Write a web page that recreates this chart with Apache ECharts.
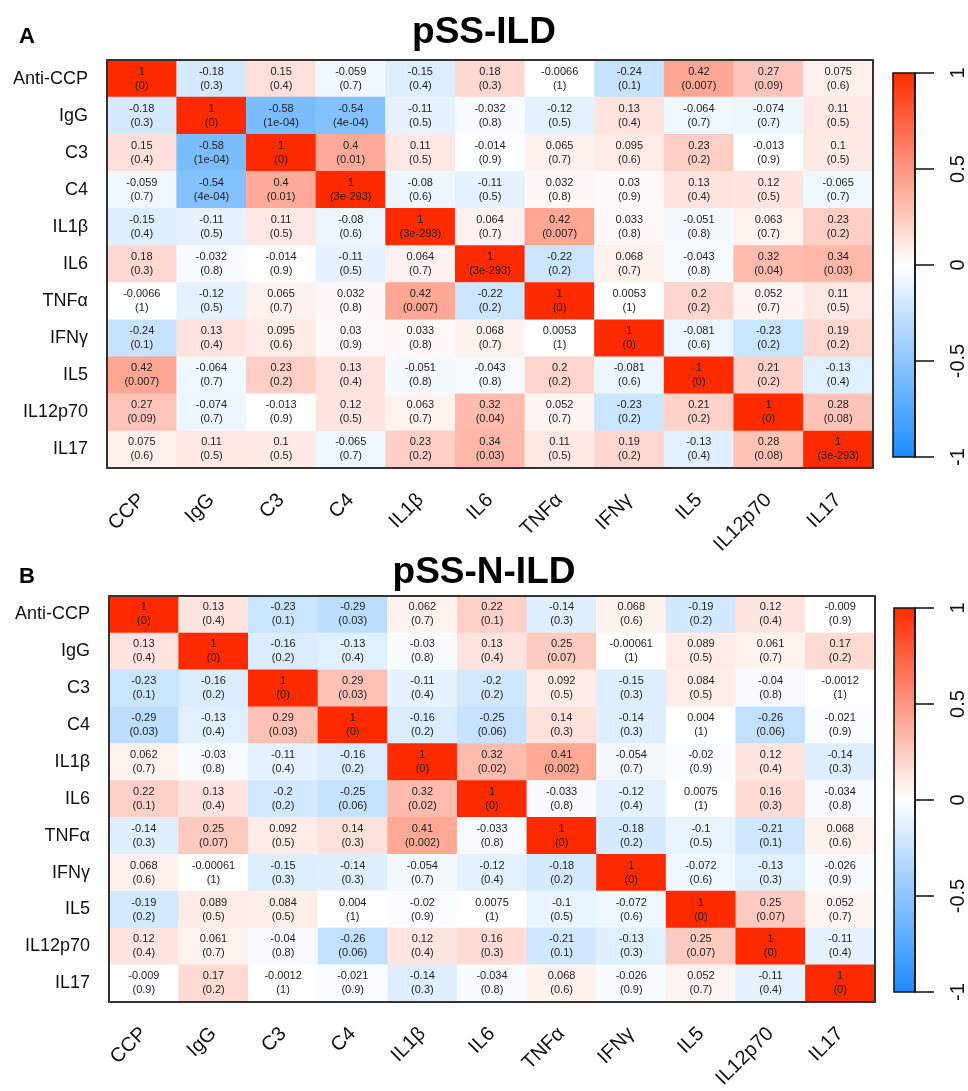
<!DOCTYPE html>
<html>
<head>
<meta charset="utf-8">
<script src="https://cdn.jsdelivr.net/npm/echarts@6/dist/echarts.min.js"></script>
<style>
html,body{margin:0;padding:0;background:#fff;}
#chart{width:968px;height:1091px;}
</style>
</head>
<body>
<div id="chart"></div>
<script>
// ---- Data ----
const rowLabels = ['Anti-CCP','IgG','C3','C4','IL1β','IL6','TNFα','IFNγ','IL5','IL12p70','IL17'];
const colLabels = ['CCP','IgG','C3','C4','IL1β','IL6','TNFα','IFNγ','IL5','IL12p70','IL17'];
const colorbarTicks = [-1, -0.5, 0, 0.5, 1];

// pSS-ILD correlation coefficients (rows x cols)
const rILD = [
  [1, -0.18, 0.15, -0.059, -0.15, 0.18, -0.0066, -0.24, 0.42, 0.27, 0.075],
  [-0.18, 1, -0.58, -0.54, -0.11, -0.032, -0.12, 0.13, -0.064, -0.074, 0.11],
  [0.15, -0.58, 1, 0.4, 0.11, -0.014, 0.065, 0.095, 0.23, -0.013, 0.1],
  [-0.059, -0.54, 0.4, 1, -0.08, -0.11, 0.032, 0.03, 0.13, 0.12, -0.065],
  [-0.15, -0.11, 0.11, -0.08, 1, 0.064, 0.42, 0.033, -0.051, 0.063, 0.23],
  [0.18, -0.032, -0.014, -0.11, 0.064, 1, -0.22, 0.068, -0.043, 0.32, 0.34],
  [-0.0066, -0.12, 0.065, 0.032, 0.42, -0.22, 1, 0.0053, 0.2, 0.052, 0.11],
  [-0.24, 0.13, 0.095, 0.03, 0.033, 0.068, 0.0053, 1, -0.081, -0.23, 0.19],
  [0.42, -0.064, 0.23, 0.13, -0.051, -0.043, 0.2, -0.081, 1, 0.21, -0.13],
  [0.27, -0.074, -0.013, 0.12, 0.063, 0.32, 0.052, -0.23, 0.21, 1, 0.28],
  [0.075, 0.11, 0.1, -0.065, 0.23, 0.34, 0.11, 0.19, -0.13, 0.28, 1]
];
// pSS-ILD p-values
const pILD = [
  ['0','0.3','0.4','0.7','0.4','0.3','1','0.1','0.007','0.09','0.6'],
  ['0.3','0','1e-04','4e-04','0.5','0.8','0.5','0.4','0.7','0.7','0.5'],
  ['0.4','1e-04','0','0.01','0.5','0.9','0.7','0.6','0.2','0.9','0.5'],
  ['0.7','4e-04','0.01','3e-293','0.6','0.5','0.8','0.9','0.4','0.5','0.7'],
  ['0.4','0.5','0.5','0.6','3e-293','0.7','0.007','0.8','0.8','0.7','0.2'],
  ['0.3','0.8','0.9','0.5','0.7','3e-293','0.2','0.7','0.8','0.04','0.03'],
  ['1','0.5','0.7','0.8','0.007','0.2','0','1','0.2','0.7','0.5'],
  ['0.1','0.4','0.6','0.9','0.8','0.7','1','0','0.6','0.2','0.2'],
  ['0.007','0.7','0.2','0.4','0.8','0.8','0.2','0.6','0','0.2','0.4'],
  ['0.09','0.7','0.9','0.5','0.7','0.04','0.7','0.2','0.2','0','0.08'],
  ['0.6','0.5','0.5','0.7','0.2','0.03','0.5','0.2','0.4','0.08','3e-293']
];
// pSS-N-ILD correlation coefficients
const rNILD = [
  [1, 0.13, -0.23, -0.29, 0.062, 0.22, -0.14, 0.068, -0.19, 0.12, -0.009],
  [0.13, 1, -0.16, -0.13, -0.03, 0.13, 0.25, -0.00061, 0.089, 0.061, 0.17],
  [-0.23, -0.16, 1, 0.29, -0.11, -0.2, 0.092, -0.15, 0.084, -0.04, -0.0012],
  [-0.29, -0.13, 0.29, 1, -0.16, -0.25, 0.14, -0.14, 0.004, -0.26, -0.021],
  [0.062, -0.03, -0.11, -0.16, 1, 0.32, 0.41, -0.054, -0.02, 0.12, -0.14],
  [0.22, 0.13, -0.2, -0.25, 0.32, 1, -0.033, -0.12, 0.0075, 0.16, -0.034],
  [-0.14, 0.25, 0.092, 0.14, 0.41, -0.033, 1, -0.18, -0.1, -0.21, 0.068],
  [0.068, -0.00061, -0.15, -0.14, -0.054, -0.12, -0.18, 1, -0.072, -0.13, -0.026],
  [-0.19, 0.089, 0.084, 0.004, -0.02, 0.0075, -0.1, -0.072, 1, 0.25, 0.052],
  [0.12, 0.061, -0.04, -0.26, 0.12, 0.16, -0.21, -0.13, 0.25, 1, -0.11],
  [-0.009, 0.17, -0.0012, -0.021, -0.14, -0.034, 0.068, -0.026, 0.052, -0.11, 1]
];
// pSS-N-ILD p-values
const pNILD = [
  ['0','0.4','0.1','0.03','0.7','0.1','0.3','0.6','0.2','0.4','0.9'],
  ['0.4','0','0.2','0.4','0.8','0.4','0.07','1','0.5','0.7','0.2'],
  ['0.1','0.2','0','0.03','0.4','0.2','0.5','0.3','0.5','0.8','1'],
  ['0.03','0.4','0.03','0','0.2','0.06','0.3','0.3','1','0.06','0.9'],
  ['0.7','0.8','0.4','0.2','0','0.02','0.002','0.7','0.9','0.4','0.3'],
  ['0.1','0.4','0.2','0.06','0.02','0','0.8','0.4','1','0.3','0.8'],
  ['0.3','0.07','0.5','0.3','0.002','0.8','0','0.2','0.5','0.1','0.6'],
  ['0.6','1','0.3','0.3','0.7','0.4','0.2','0','0.6','0.3','0.9'],
  ['0.2','0.5','0.5','1','0.9','1','0.5','0.6','0','0.07','0.7'],
  ['0.4','0.7','0.8','0.06','0.4','0.3','0.1','0.3','0.07','0','0.4'],
  ['0.9','0.2','1','0.9','0.3','0.8','0.6','0.9','0.7','0.4','0']
];
const colorbarRange = [[0, -1, 1]];

// ---- Styling ----
const BLUE = '#1A8CFF', RED = '#FF2A00';
const FONT = "'Liberation Sans', Arial, sans-serif";

function toCells(r) {
  const out = [];
  r.forEach((row, yi) => row.forEach((v, xi) => out.push([xi, yi, v])));
  return out;
}

const grids = [
  {left: 107, top: 60, width: 766, height: 408},
  {left: 109, top: 596, width: 766, height: 410},
  {left: 893, top: 73, width: 28, height: 384},
  {left: 894, top: 608, width: 29, height: 384}
];

const xAxes = [], yAxes = [], series = [];
[0, 1].forEach(g => {
  xAxes.push({
    type: 'category', gridIndex: g, data: colLabels, position: 'bottom', z: 10,
    axisLine: {show: true, onZero: false, lineStyle: {color: '#333', width: 2}},
    axisTick: {show: false}, splitLine: {show: false},
    axisLabel: {rotate: 45, margin: 29, fontSize: 20, color: '#111', fontFamily: FONT, interval: 0}
  });
  xAxes.push({
    type: 'category', gridIndex: g, data: colLabels, position: 'top', z: 10,
    axisLine: {show: true, onZero: false, lineStyle: {color: '#333', width: 2}},
    axisTick: {show: false}, axisLabel: {show: false}
  });
  yAxes.push({
    type: 'category', gridIndex: g, data: rowLabels, inverse: true, position: 'left', z: 10,
    axisLine: {show: true, onZero: false, lineStyle: {color: '#333', width: 2}},
    axisTick: {show: false},
    axisLabel: {margin: 19, fontSize: 18, color: '#111', fontFamily: FONT, interval: 0}
  });
  yAxes.push({
    type: 'category', gridIndex: g, data: rowLabels, inverse: true, position: 'right', z: 10,
    axisLine: {show: true, onZero: false, lineStyle: {color: '#333', width: 2}},
    axisTick: {show: false}, axisLabel: {show: false}
  });
});
// colorbar axes
[2, 3].forEach(g => {
  xAxes.push({type: 'category', gridIndex: g, data: ['cb'], show: false});
  yAxes.push({
    type: 'value', gridIndex: g, min: -1, max: 1, interval: 0.5, position: 'right', z: 10,
    axisLine: {show: true, lineStyle: {color: '#111', width: 1.5}},
    axisTick: {show: true, length: 19, lineStyle: {color: '#111', width: 1.5}},
    splitLine: {show: false},
    axisLabel: {rotate: 90, margin: 33, fontSize: 20, color: '#111', fontFamily: FONT,
      formatter: v => colorbarTicks.indexOf(v) >= 0 ? String(v) : ''}
  });
});

const pTables = [pILD, pNILD];
[rILD, rNILD].forEach((r, g) => {
  series.push({
    type: 'heatmap', xAxisIndex: 2 * g, yAxisIndex: 2 * g,
    data: toCells(r),
    label: {
      show: true, fontSize: 11, lineHeight: 14, color: '#222', fontFamily: FONT,
      formatter: p => String(p.data[2]) + '\n(' + pTables[g][p.data[1]][p.data[0]] + ')'
    },
    itemStyle: {borderWidth: 0},
    emphasis: {disabled: true}
  });
});

function cbRender(params, api) {
  const lo = api.coord([api.value(0), api.value(1)]);
  const hi = api.coord([api.value(0), api.value(2)]);
  const w = api.size([1, 0])[0];
  return {
    type: 'rect',
    shape: {x: lo[0] - w / 2, y: hi[1], width: w, height: lo[1] - hi[1]},
    style: {
      fill: new echarts.graphic.LinearGradient(0, 0, 0, 1, [
        {offset: 0, color: RED}, {offset: 0.5, color: '#ffffff'}, {offset: 1, color: BLUE}
      ]),
      stroke: '#111', lineWidth: 1.5
    }
  };
}
[4, 5].forEach(ai => {
  series.push({
    type: 'custom', xAxisIndex: ai, yAxisIndex: ai, renderItem: cbRender,
    data: colorbarRange, silent: true, z: 3
  });
});

const option = {
  backgroundColor: '#fff',
  animation: false,
  title: [
    {text: 'pSS-ILD', left: 'center', top: 9, textStyle: {fontSize: 37, fontWeight: 'bold', color: '#000', fontFamily: FONT}},
    {text: 'A', left: 14, top: 21, textStyle: {fontSize: 22, fontWeight: 'bold', color: '#000', fontFamily: FONT}},
    {text: 'pSS-N-ILD', left: 'center', top: 549, textStyle: {fontSize: 37, fontWeight: 'bold', color: '#000', fontFamily: FONT}},
    {text: 'B', left: 14, top: 561, textStyle: {fontSize: 22, fontWeight: 'bold', color: '#000', fontFamily: FONT}}
  ],
  grid: grids.map(g => Object.assign({show: false, containLabel: false}, g)),
  xAxis: xAxes,
  yAxis: yAxes,
  visualMap: {
    show: false, type: 'continuous', min: -1, max: 1, dimension: 2,
    seriesIndex: [0, 1],
    inRange: {color: [BLUE, '#ffffff', RED]}
  },
  series: series
};

const chart = echarts.init(document.getElementById('chart'), null, {renderer: 'canvas'});
chart.setOption(option);
</script>
</body>
</html>
